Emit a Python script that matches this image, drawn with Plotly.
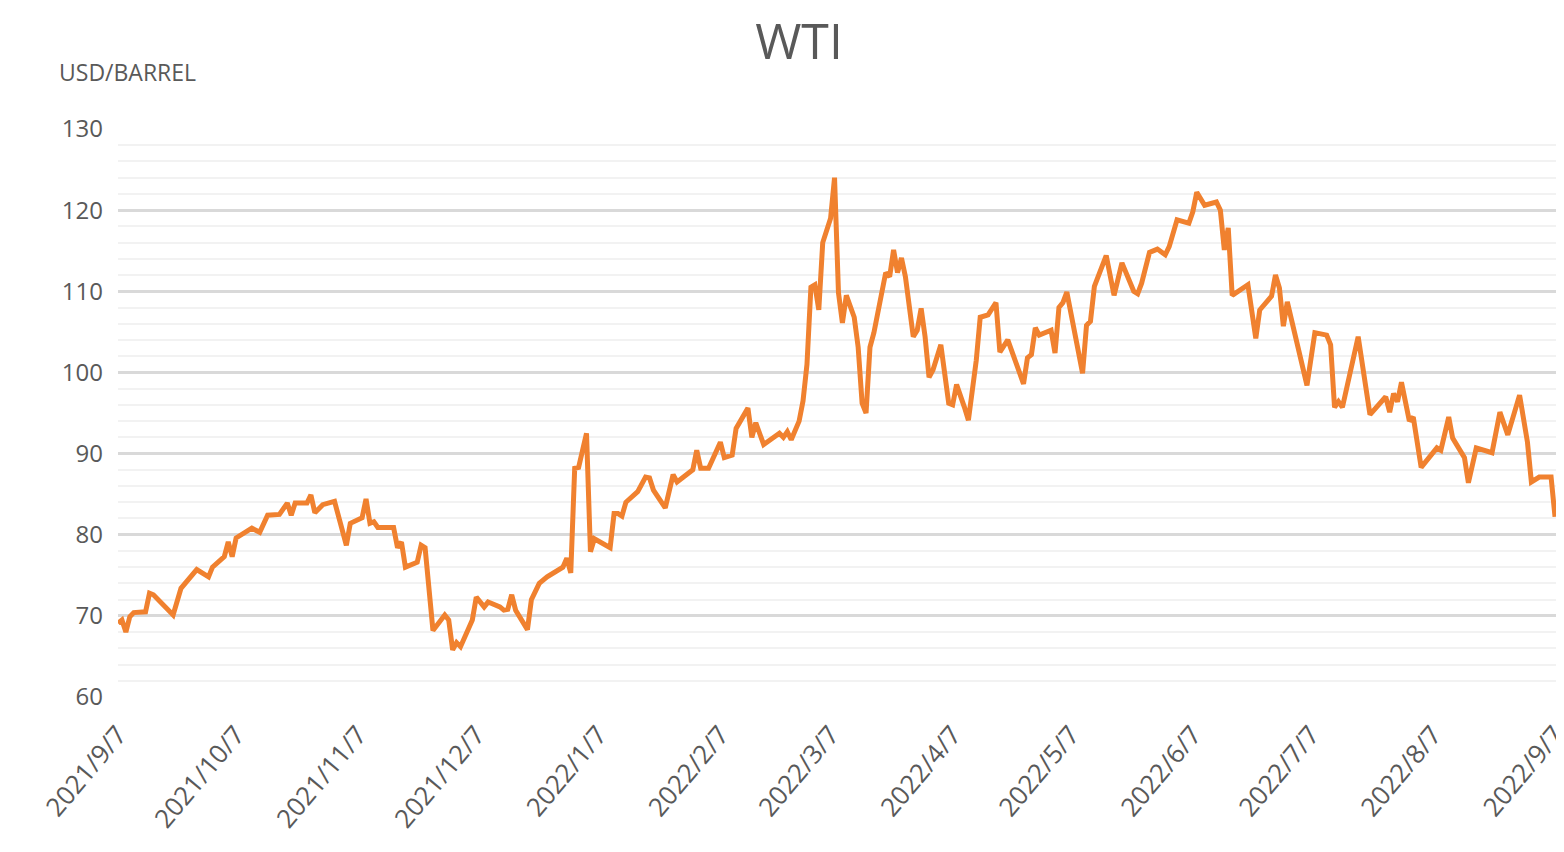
import pandas as pd
import plotly.graph_objects as go

# ---- data ----
start_date = "2021-09-07"
day_offsets = [0, 1, 2, 3, 4, 7, 8, 9, 14, 16, 20, 23, 24, 27, 28, 29, 30, 34, 36, 38,
               41, 43, 44, 45, 48, 49, 50, 52, 55, 58, 59, 62, 63, 64, 65, 66, 70, 71, 72, 73,
               76, 77, 78, 80, 83, 84, 85, 86, 87, 90, 91, 93, 94, 97, 98, 99, 100, 101, 104, 105,
               107, 109, 113, 114, 115, 116, 117, 119, 120, 121, 125, 126, 127, 128, 129, 132, 134, 135, 136, 139,
               141, 142, 146, 147, 148, 150, 153, 154, 156, 157, 160, 161, 162, 164, 168, 169, 170, 171, 173, 174,
               175, 176, 177, 178, 179, 180, 181, 182, 183, 184, 185, 187, 188, 189, 190, 191, 192, 195, 196, 197,
               198, 199, 200, 202, 203, 204, 205, 206, 207, 209, 211, 212, 213, 215, 216, 218, 219, 221, 223, 224,
               226, 230, 231, 232, 233, 234, 237, 238, 239, 240, 241, 245, 246, 247, 248, 251, 253, 255, 258, 259,
               260, 262, 264, 266, 267, 269, 272, 273, 274, 276, 279, 280, 281, 282, 283, 287, 288, 289, 290, 293,
               294, 295, 296, 297, 302, 304, 307, 308, 309, 310, 311, 315, 318, 322, 323, 324, 325, 326, 328, 329,
               331, 335, 336, 338, 339, 342, 343, 345, 349, 351, 353, 356, 358, 359, 361, 364, 365]
wti_price = [69.1, 69.5, 68.0, 69.9, 70.4, 70.5, 72.8, 72.6, 70.1, 73.4, 75.7, 74.8, 76.0, 77.3, 79.1, 77.3, 79.6, 80.8, 80.3, 82.4,
             82.5, 83.9, 82.4, 83.9, 83.9, 84.9, 82.7, 83.7, 84.1, 78.7, 81.4, 82.1, 84.4, 81.4, 81.6, 80.9, 80.9, 78.4, 79.1, 76.0,
             76.6, 78.7, 78.4, 68.2, 70.1, 69.5, 65.8, 66.7, 66.2, 69.5, 72.3, 71.1, 71.7, 71.1, 70.7, 70.8, 72.6, 70.7, 68.3, 72.0,
             74.0, 74.8, 76.0, 77.1, 75.3, 88.2, 88.3, 92.5, 77.9, 79.5, 78.4, 82.6, 82.6, 82.3, 84.0, 85.3, 87.1, 87.0, 85.5, 83.3,
             87.4, 86.5, 88.0, 90.4, 88.2, 88.2, 91.4, 89.5, 89.8, 93.1, 95.6, 92.0, 93.8, 91.1, 92.5, 92.0, 92.7, 91.7, 94.0, 96.5,
             101.0, 110.5, 110.8, 107.7, 116.0, 117.3, 119.0, 124.0, 109.8, 106.1, 109.5, 106.8, 103.1, 96.2, 95.0, 103.1, 104.9, 112.3, 111.8, 115.1,
             112.3, 114.1, 111.8, 104.4, 105.2, 107.9, 104.4, 99.4, 100.3, 103.4, 96.2, 96.0, 98.5, 95.7, 94.1, 101.5, 106.8, 107.1, 108.6, 102.5,
             104.0, 98.6, 101.8, 102.2, 105.5, 104.6, 105.2, 102.4, 108.0, 108.6, 109.9, 99.9, 105.8, 106.3, 110.6, 114.4, 109.5, 113.5, 110.0, 109.7,
             111.0, 114.8, 115.2, 114.5, 115.5, 118.8, 118.4, 119.8, 122.2, 120.6, 121.0, 120.0, 115.1, 117.8, 109.5, 110.8, 107.0, 104.2, 107.7, 109.4,
             112.0, 110.4, 105.7, 108.7, 98.4, 104.9, 104.6, 103.4, 95.7, 96.4, 95.7, 104.4, 94.8, 97.0, 95.1, 97.4, 96.4, 98.8, 94.0, 94.5,
             88.3, 90.7, 90.4, 94.5, 91.9, 89.5, 86.4, 90.7, 90.1, 95.1, 92.3, 97.2, 91.4, 86.5, 87.1, 87.1, 82.2]

tick_dates = ["2021-09-07", "2021-10-07", "2021-11-07", "2021-12-07", "2022-01-07", "2022-02-07",
              "2022-03-07", "2022-04-07", "2022-05-07", "2022-06-07", "2022-07-07", "2022-08-07", "2022-09-07"]
tick_labels = ["2021/9/7", "2021/10/7", "2021/11/7", "2021/12/7", "2022/1/7", "2022/2/7",
               "2022/3/7", "2022/4/7", "2022/5/7", "2022/6/7", "2022/7/7", "2022/8/7", "2022/9/7"]
y_ticks = [60, 70, 80, 90, 100, 110, 120, 130]

dates = pd.Timestamp(start_date) + pd.to_timedelta(day_offsets, unit="D")

TEXT = "#595959"
FONT = "Open Sans"

fig = go.Figure()
fig.add_trace(go.Scatter(
    x=dates, y=wti_price, mode="lines",
    line=dict(color="#F0812F", width=5, shape="linear"),
    hoverinfo="x+y", showlegend=False,
))

fig.update_layout(
    width=1548, height=836,
    paper_bgcolor="white", plot_bgcolor="white",
    margin=dict(l=110, r=0, t=121, b=147, autoexpand=False),
    title=dict(text="WTI", x=0.511, xanchor="center", xref="container",
               y=0.960, yanchor="middle", yref="container",
               font=dict(family=FONT, size=50, color=TEXT)),
    font=dict(family=FONT, color=TEXT),
    annotations=[dict(text="USD/BARREL", xref="paper", yref="paper",
                      x=-0.0425, y=1.100, xanchor="left", yanchor="middle",
                      showarrow=False, font=dict(family=FONT, size=23, color=TEXT))],
)

fig.update_xaxes(
    type="date", range=["2021-09-07", "2022-09-07 06:00"],
    tickvals=tick_dates, ticktext=tick_labels, tickangle=-50,
    tickfont=dict(family=FONT, size=26, color=TEXT),
    showgrid=False, zeroline=False, showline=False, ticks="",
    ticklabelstandoff=16, ticklabeloverflow="allow", automargin=False,
)
fig.update_yaxes(
    range=[60, 130], tickvals=y_ticks,
    tickfont=dict(family=FONT, size=24, color=TEXT),
    showgrid=True, gridcolor="#D9D9D9", gridwidth=2.5,
    zeroline=False, showline=False, ticks="", ticklabelstandoff=14,
    minor=dict(dtick=2, showgrid=True, gridcolor="#F2F2F2", gridwidth=2),
    automargin=False,
)

fig.write_html("out.html")
